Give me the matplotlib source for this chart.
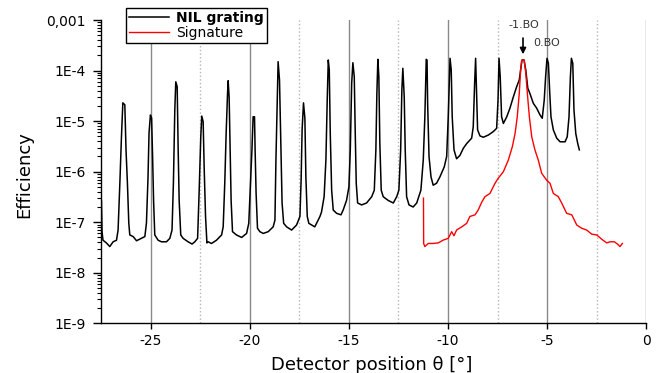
import numpy as np
import matplotlib
matplotlib.use("Agg")
import matplotlib.pyplot as plt
from matplotlib.ticker import FixedLocator, FixedFormatter, LogLocator, NullFormatter

# ****************************************
# Data (detector angle in degrees, efficiency)

nil_x = [
  -27.48, -27.45, -27.40, -27.23, -27.06, -26.89, -26.72, -26.64,
  -26.55, -26.47, -26.40, -26.30, -26.24, -26.17, -26.10,
  -26.05, -25.88, -25.71, -25.46, -25.29, -25.21,
  -25.13, -25.08, -25.01, -24.95, -24.90, -24.85, -24.79,
  -24.62, -24.45, -24.20, -24.03, -23.92,
  -23.85, -23.78, -23.73, -23.66, -23.61, -23.56, -23.48,
  -23.36, -23.11, -22.91, -22.77, -22.63,
  -22.55, -22.47, -22.42, -22.35, -22.30, -22.23, -22.16,
  -22.10, -21.93, -21.68, -21.42, -21.34,
  -21.26, -21.19, -21.12, -21.09, -21.04, -21.00, -20.94, -20.87,
  -20.67, -20.41, -20.16, -20.05,
  -19.96, -19.89, -19.83, -19.76, -19.73, -19.68, -19.61,
  -19.49, -19.32, -19.07, -18.82, -18.73,
  -18.68, -18.63, -18.57, -18.50, -18.43, -18.37, -18.29,
  -18.14, -17.89, -17.64, -17.47,
  -17.41, -17.36, -17.29, -17.22, -17.17, -17.10, -17.02,
  -16.88, -16.72, -16.55, -16.46, -16.38, -16.25,
  -16.16, -16.09, -16.04, -15.99, -15.94, -15.87,
  -15.79, -15.62, -15.40, -15.29, -15.12, -15.00,
  -14.93, -14.86, -14.80, -14.73, -14.68, -14.63, -14.56,
  -14.36, -14.11, -13.85, -13.72,
  -13.64, -13.59, -13.54, -13.49, -13.44, -13.37, -13.27,
  -13.02, -12.76, -12.59, -12.48,
  -12.39, -12.33, -12.28, -12.21, -12.16, -12.09, -11.97,
  -11.76, -11.58, -11.37, -11.25,
  -11.17, -11.10, -11.06, -11.03, -10.96,
  -10.86, -10.75, -10.58, -10.41, -10.19, -10.07, -9.99,
  -9.90, -9.84, -9.79, -9.70, -9.57, -9.40, -9.23, -9.06, -8.81, -8.73,
  -8.66, -8.61, -8.56, -8.51, -8.39, -8.22, -7.97, -7.72, -7.55,
  -7.48, -7.43, -7.37, -7.30, -7.21, -7.04, -6.88, -6.71, -6.54, -6.41,
  -6.32, -6.27, -6.17, -6.08, -5.98, -5.87, -5.70, -5.53, -5.36, -5.25,
  -5.15, -5.08, -5.01, -4.94, -4.87, -4.81, -4.69, -4.52, -4.35, -4.10, -3.99,
  -3.90, -3.83, -3.78, -3.71, -3.65, -3.56, -3.46, -3.38,
]
nil_y = [
  2.7e-7, 6.5e-8, 4.4e-8, 3.9e-8, 3.3e-8, 4.1e-8, 4.4e-8, 7.0e-8,
  6.0e-7, 4.9e-6, 2.3e-5, 2.1e-5, 2.7e-6, 6.0e-7, 9.6e-8,
  5.6e-8, 5.2e-8, 4.3e-8, 4.8e-8, 5.2e-8, 9.6e-8,
  7.9e-7, 5.8e-6, 1.32e-5, 1.15e-5, 2.0e-6, 2.7e-7, 5.6e-8,
  4.4e-8, 4.1e-8, 4.1e-8, 4.8e-8, 7.0e-8,
  6.0e-7, 1.66e-5, 6.0e-5, 4.8e-5, 2.7e-6, 2.7e-7, 5.6e-8,
  4.8e-8, 4.1e-8, 3.7e-8, 4.1e-8, 4.8e-8,
  4.3e-7, 4.9e-6, 1.26e-5, 9.7e-6, 1.25e-6, 1.3e-7, 3.9e-8,
  4.1e-8, 3.8e-8, 4.4e-8, 5.6e-8, 8.1e-8,
  6.0e-7, 5.8e-6, 3.6e-5, 6.3e-5, 3.0e-5, 4.2e-6, 2.7e-7, 6.5e-8,
  5.6e-8, 5.0e-8, 6.0e-8, 9.5e-8,
  6.0e-7, 2.7e-6, 1.22e-5, 1.22e-5, 2.7e-6, 3.7e-7, 7.6e-8,
  6.5e-8, 6.0e-8, 6.5e-8, 8.1e-8, 1.1e-7,
  1.7e-6, 1.22e-5, 1.5e-4, 6.5e-5, 3.6e-6, 2.4e-7, 9.5e-8,
  8.1e-8, 7.0e-8, 8.8e-8, 1.3e-7,
  6.8e-7, 6.7e-6, 2.3e-5, 1.14e-5, 7.9e-7, 1.3e-7, 9.5e-8,
  8.8e-8, 8.1e-8, 1.1e-7, 1.3e-7, 1.6e-7, 3.2e-7,
  1.7e-6, 3.0e-5, 1.62e-4, 1.03e-4, 5.7e-6, 4.3e-7,
  1.74e-7, 1.5e-7, 1.4e-7, 1.74e-7, 2.7e-7, 5.0e-7,
  2.7e-6, 5.6e-5, 1.43e-4, 7.6e-5, 5.7e-6, 5.9e-7, 2.4e-7,
  2.2e-7, 2.4e-7, 3.2e-7, 4.3e-7,
  2.7e-6, 3.5e-5, 1.67e-4, 7.6e-5, 3.6e-6, 4.3e-7, 3.2e-7,
  2.7e-7, 2.4e-7, 3.2e-7, 4.3e-7,
  2.7e-6, 4.1e-5, 1.11e-4, 3.0e-5, 2.7e-6, 3.2e-7, 2.2e-7,
  2.0e-7, 2.4e-7, 4.3e-7, 1.7e-6,
  1.22e-5, 1.67e-4, 1.62e-4, 2.25e-5, 2.0e-6,
  7.9e-7, 5.4e-7, 5.9e-7, 7.9e-7, 1.25e-6, 2.0e-6, 1.22e-5,
  1.75e-4, 1.03e-4, 1.22e-5, 2.7e-6, 1.8e-6, 2.1e-6, 2.9e-6, 3.6e-6, 4.6e-6, 7.7e-6,
  5.6e-5, 1.75e-4, 3.6e-5, 6.7e-6, 5.1e-6, 4.8e-6, 5.3e-6, 6.2e-6, 7.2e-6,
  2.6e-5, 1.75e-4, 7.6e-5, 1.22e-5, 9.0e-6, 1.22e-5, 1.8e-5, 3.0e-5, 4.8e-5, 6.5e-5,
  1.19e-4, 1.62e-4, 1.62e-4, 1.03e-4, 4.5e-5, 3.5e-5, 2.25e-5, 1.8e-5, 1.32e-5, 1.14e-5,
  2.6e-5, 7.6e-5, 1.75e-4, 1.39e-4, 3.5e-5, 1.22e-5, 6.7e-6, 4.6e-6, 3.9e-6, 3.9e-6, 4.9e-6,
  1.22e-5, 7.6e-5, 1.75e-4, 1.39e-4, 1.66e-5, 5.7e-6, 3.6e-6, 2.7e-6,
]

sig_x = [
  -11.24, -11.23, -11.17, -11.00, -10.76, -10.49, -10.26, -9.99, -9.82, -9.70,
  -9.57, -9.31, -9.06, -8.90, -8.64, -8.48, -8.30, -8.14, -7.89, -7.63,
  -7.47, -7.21, -6.96, -6.76, -6.62, -6.51, -6.41, -6.34, -6.29, -6.16,
  -6.08, -6.00, -5.90, -5.78, -5.62, -5.45, -5.28, -5.03, -4.86, -4.69,
  -4.44, -4.27, -4.02, -3.76, -3.51, -3.26, -3.01, -2.75, -2.50, -2.25,
  -2.00, -1.83, -1.61, -1.44, -1.33, -1.21,
]
sig_y = [
  3.0e-7, 3.8e-8, 3.3e-8, 3.8e-8, 3.8e-8, 3.9e-8, 4.4e-8, 4.8e-8, 6.5e-8, 5.4e-8,
  7.0e-8, 8.1e-8, 9.5e-8, 1.3e-7, 1.4e-7, 1.74e-7, 2.5e-7, 3.2e-7, 3.7e-7, 5.9e-7,
  7.4e-7, 1.0e-6, 1.7e-6, 3.1e-6, 5.7e-6, 1.22e-5, 3.5e-5, 1.03e-4, 1.57e-4, 1.62e-4,
  8.8e-5, 3.5e-5, 1.22e-5, 4.9e-6, 2.7e-6, 1.7e-6, 9.3e-7, 6.8e-7, 5.9e-7, 3.7e-7,
  3.2e-7, 2.4e-7, 1.5e-7, 1.4e-7, 8.8e-8, 7.6e-8, 7.0e-8, 5.8e-8, 5.6e-8, 4.6e-8,
  3.9e-8, 4.1e-8, 4.1e-8, 3.65e-8, 3.3e-8, 3.8e-8,
]

x_major = [-25, -20, -15, -10, -5, 0]
x_minor = [-22.5, -17.5, -12.5, -7.5, -2.5]
y_major = [1e-9, 1e-8, 1e-7, 1e-6, 1e-5, 1e-4, 1e-3]
y_labels = ["1E-9", "1E-8", "1E-7", "1E-6", "1E-5", "1E-4", "0,001"]

# ****************************************
# Plot

plt.rcParams["axes.unicode_minus"] = False
plt.rcParams["font.family"] = "DejaVu Sans"

fig = plt.figure(figsize=(6.66, 3.73), dpi=100)
ax = fig.add_axes([0.1517, 0.1332, 0.8188, 0.8131])

ax.plot(nil_x, nil_y, color="black", lw=1.1, label="NIL grating", zorder=3)
ax.plot(sig_x, sig_y, color="red", lw=1.0, label="Signature", zorder=3)

ax.set_yscale("log")
ax.set_xlim(-27.5, 0)
ax.set_ylim(1e-9, 1e-3)

ax.xaxis.set_major_locator(FixedLocator(x_major))
ax.xaxis.set_minor_locator(FixedLocator(x_minor))
ax.yaxis.set_major_locator(FixedLocator(y_major))
ax.yaxis.set_major_formatter(FixedFormatter(y_labels))
ax.yaxis.set_minor_locator(LogLocator(base=10, subs=np.arange(2, 10)))
ax.yaxis.set_minor_formatter(NullFormatter())

ax.tick_params(axis="x", which="major", direction="out", length=4, width=1, pad=4, labelsize=10)
ax.tick_params(axis="x", which="minor", length=0)
ax.tick_params(axis="y", which="major", direction="out", length=6, width=1, pad=5, labelsize=10)
ax.tick_params(axis="y", which="minor", direction="out", length=3, width=0.8)

ax.grid(True, which="major", axis="x", color="#8a8a8a", lw=1.0, ls="-", zorder=0)
ax.grid(True, which="minor", axis="x", color="#b5b5b5", lw=1.0, ls=":", zorder=0)

for side in ["top", "right"]:
  ax.spines[side].set_visible(False)
for side in ["left", "bottom"]:
  ax.spines[side].set_linewidth(1.0)

ax.set_xlabel("Detector position θ [°]", fontsize=13)
ax.xaxis.set_label_coords(0.497, -0.108)
ax.set_ylabel("Efficiency", fontsize=13)
ax.yaxis.set_label_coords(-0.125, 0.49)

# diffraction order annotation
ax.annotate("", xy=(-6.22, 1.85e-4), xytext=(-6.22, 5.0e-4),
            arrowprops=dict(arrowstyle="-|>", color="black", lw=1.2, mutation_scale=9))
ax.text(-6.17, 8.0e-4, "-1.BO", ha="center", va="center", fontsize=8, color="#333333")
ax.text(-5.72, 3.5e-4, "0.BO", ha="left", va="center", fontsize=8, color="#333333")

leg = ax.legend(loc="upper left", bbox_to_anchor=(0.046, 1.04), fancybox=False,
                edgecolor="black", framealpha=1, fontsize=10, handlelength=2.9,
                handletextpad=0.5, labelspacing=0.1, borderpad=0.2, borderaxespad=0)
leg.get_frame().set_linewidth(1.0)
leg.get_texts()[0].set_fontweight("bold")
leg.set_zorder(5)

fig.savefig("out.png", dpi=100)
